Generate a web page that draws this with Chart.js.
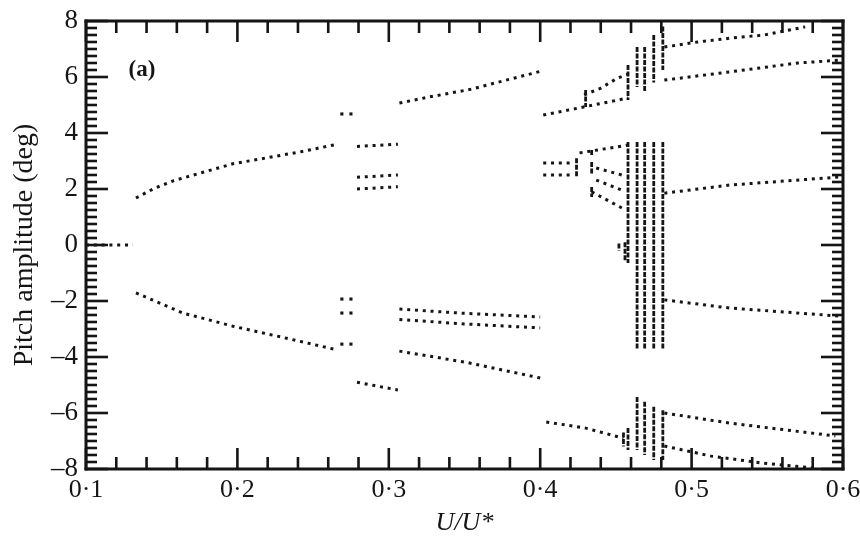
<!DOCTYPE html>
<html>
<head>
<meta charset="utf-8">
<script src="https://cdn.jsdelivr.net/npm/chart.js@4"></script>
<style>
  body { margin: 0; background: #fff; }
  #wrap { width: 860px; height: 536px; }
</style>
</head>
<body>
<div id="wrap"><canvas id="pitchChart"></canvas></div>
<script>
// points: [U/U*, pitch amplitude in deg]
const symmetric0 = [[0.100, 0], [0.131, 0]];
const p1Upper = [[0.133, 1.68], [0.145, 2.02], [0.158, 2.30], [0.197, 2.90], [0.241, 3.32], [0.266, 3.60]];
const p1Lower = [[0.133, -1.71], [0.164, -2.43], [0.197, -2.90], [0.230, -3.30], [0.266, -3.75]];
const gapDots = [[0.269, 4.68], [0.275, 4.68], [0.269, -1.93], [0.275, -1.93],
                 [0.269, -2.43], [0.275, -2.43], [0.269, -3.54], [0.275, -3.54]];
const band3a = [[0.279, 3.52], [0.306, 3.60]];
const band3b = [[0.279, 2.42], [0.306, 2.50]];
const band3c = [[0.279, 2.00], [0.306, 2.08]];
const band3d = [[0.279, -4.90], [0.306, -5.18]];
const p2Upper = [[0.307, 5.07], [0.327, 5.29], [0.354, 5.56], [0.400, 6.20]];
const p2LowA = [[0.307, -2.29], [0.350, -2.44], [0.400, -2.57]];
const p2LowB = [[0.307, -2.66], [0.350, -2.82], [0.400, -2.96]];
const p2LowC = [[0.307, -3.79], [0.352, -4.20], [0.400, -4.75]];
const p4UpperA = [[0.402, 4.64], [0.426, 4.90], [0.458, 5.25]];
const p4UpperB = [[0.429, 5.36], [0.440, 5.60], [0.451, 5.96], [0.458, 6.10]];
const p4MidA = [[0.402, 2.93], [0.420, 2.93]];
const p4MidB = [[0.402, 2.50], [0.420, 2.50]];
const fan1 = [[0.426, 3.29], [0.458, 3.57]];
const fan2 = [[0.437, 2.75], [0.454, 2.50]];
const fan3 = [[0.437, 2.32], [0.454, 1.96]];
const fan4 = [[0.434, 1.90], [0.454, 1.32]];
const p4Bottom = [[0.404, -6.32], [0.430, -6.54], [0.455, -6.90]];
const r1 = [[0.482, 7.07], [0.504, 7.25], [0.526, 7.39], [0.548, 7.50], [0.575, 7.79]];
const r2 = [[0.482, 5.89], [0.525, 6.18], [0.570, 6.50], [0.598, 6.60]];
const r3 = [[0.482, 1.85], [0.525, 2.14], [0.598, 2.43]];
const r4 = [[0.482, -1.96], [0.525, -2.25], [0.598, -2.54]];
const r5 = [[0.482, -6.00], [0.525, -6.36], [0.595, -6.82]];
const r6 = [[0.482, -7.18], [0.513, -7.54], [0.547, -7.79], [0.580, -7.96]];
// vertical streaks of the cascade: [U/U*, top, bottom]
const streaks = [
  [0.424, 3.10, 2.43], [0.434, 3.39, 3.20], [0.434, 2.96, 2.50], [0.434, 2.07, 1.71],
  [0.430, 5.54, 4.93], [0.452, 0.05, -0.20], [0.456, 0.10, -0.55], [0.455, -6.70, -7.20],
  [0.458, 6.43, 5.18], [0.464, 7.07, 5.64], [0.469, 7.07, 5.46], [0.475, 7.50, 5.80], [0.481, 7.80, 6.25],
  [0.458, 3.68, -0.64], [0.464, 3.68, -3.75], [0.469, 3.68, -3.75], [0.475, 3.68, -3.75], [0.481, 3.68, -3.75],
  [0.458, -6.54, -7.32], [0.464, -5.43, -7.32], [0.469, -5.60, -7.50], [0.475, -5.78, -7.68], [0.481, -5.90, -7.68]
];
const xTicksMajor = [0.1, 0.2, 0.3, 0.4, 0.5, 0.6];
const yTicksMajor = [-8, -6, -4, -2, 0, 2, 4, 6, 8];
// frame ticks: every 0.02 in U/U*, every 0.25 deg
const xMinorTicks = Array.from({ length: 26 }, (_, i) => ({ v: 0.1 + i * 0.02, major: i % 5 === 0 }));
const yMinorTicks = Array.from({ length: 65 }, (_, i) => ({ v: -8 + i * 0.25, major: i % 8 === 0 }));

const ink = "#151515";
const serif = "'Liberation Serif', 'DejaVu Serif', serif";

let toPts = (arr) => arr.map(([x, y]) => ({ x: x, y: y }));

let dotted = (arr) => ({
  data: toPts(arr),
  showLine: true,
  borderColor: ink,
  borderWidth: 3,
  borderDash: [3, 4.8],
  pointRadius: 0,
});

let streakData = [];
streaks.forEach(([x, top, bottom]) => {
  streakData.push({ x: x, y: top }, { x: x, y: bottom }, { x: x, y: null });
});

const branchList = [symmetric0, p1Upper, p1Lower, band3a, band3b, band3c, band3d,
  p2Upper, p2LowA, p2LowB, p2LowC, p4UpperA, p4UpperB, p4MidA, p4MidB,
  fan1, fan2, fan3, fan4, p4Bottom, r1, r2, r3, r4, r5, r6];

const datasets = branchList.map(dotted);
datasets.push({
  data: streakData,
  showLine: true,
  spanGaps: false,
  borderColor: ink,
  borderWidth: 2.8,
  borderDash: [5, 1.5],
  pointRadius: 0,
});
datasets.push({
  data: toPts(gapDots),
  pointStyle: "rect",
  pointRadius: 2.2,
  backgroundColor: ink,
  borderWidth: 0,
});

// frame with inward ticks on all four sides, plus the panel label
const frameTicks = {
  id: "frameTicks",
  afterDraw(chart) {
    const ctx = chart.ctx;
    const a = chart.chartArea;
    const sx = chart.scales.x;
    const sy = chart.scales.y;
    ctx.save();
    ctx.fillStyle = ink;
    xMinorTicks.forEach((t) => {
      const px = sx.getPixelForValue(t.v);
      const len = t.major ? 21 : 12;
      ctx.fillRect(px - 1.3, a.bottom - len, 2.6, len);
      ctx.fillRect(px - 1.3, a.top, 2.6, len);
    });
    yMinorTicks.forEach((t) => {
      const py = sy.getPixelForValue(t.v);
      const len = t.major ? 22 : 11;
      ctx.fillRect(a.left, py - 1.3, len, 2.6);
      ctx.fillRect(a.right - len, py - 1.3, len, 2.6);
    });
    ctx.fillRect(a.left - 1.5, a.top - 1.5, a.right - a.left + 3, 3);
    ctx.fillRect(a.left - 1.5, a.bottom - 1.5, a.right - a.left + 3, 3);
    ctx.fillRect(a.left - 1.5, a.top - 1.5, 3, a.bottom - a.top + 3);
    ctx.fillRect(a.right - 1.5, a.top - 1.5, 3, a.bottom - a.top + 3);
    ctx.font = "bold 23px " + serif;
    ctx.textAlign = "center";
    ctx.textBaseline = "middle";
    ctx.fillText("(a)", sx.getPixelForValue(0.137), sy.getPixelForValue(6.25));
    ctx.restore();
  },
};

let plotPitch = () => {
  const ctx = document.getElementById("pitchChart");
  const config = {
    type: "scatter",
    data: { datasets: datasets },
    options: {
      animation: false,
      responsive: true,
      maintainAspectRatio: false,
      layout: { padding: { left: 0, right: 17, top: 21, bottom: 0 } },
      plugins: { legend: { display: false }, tooltip: { enabled: false } },
      scales: {
        x: {
          type: "linear",
          min: 0.1,
          max: 0.6,
          afterFit: (scale) => { scale.height = 67; scale.paddingLeft = 0; scale.paddingRight = 0; },
          afterBuildTicks: (scale) => { scale.ticks = xTicksMajor.map((v) => ({ value: v })); },
          grid: { display: false, drawTicks: false },
          border: { display: false },
          ticks: {
            padding: 6,
            maxRotation: 0,
            autoSkip: false,
            color: ink,
            font: { family: serif, size: 26 },
            callback: (v) => Number(v).toFixed(1).replace(".", "·"),
          },
          title: {
            display: true,
            text: "U/U*",
            color: ink,
            padding: 0,
            font: { family: serif, size: 26, style: "italic", lineHeight: 1 },
          },
        },
        y: {
          type: "linear",
          min: -8,
          max: 8,
          afterFit: (scale) => { scale.width = 86; scale.paddingTop = 0; scale.paddingBottom = 0; },
          afterBuildTicks: (scale) => { scale.ticks = yTicksMajor.map((v) => ({ value: v })); },
          grid: { display: false, drawTicks: false },
          border: { display: false },
          ticks: {
            padding: 8,
            autoSkip: false,
            color: ink,
            font: { family: serif, size: 27 },
            callback: (v) => (v < 0 ? "–" + (-v) : String(v)),
          },
          title: {
            display: true,
            text: "Pitch amplitude (deg)",
            color: ink,
            padding: { top: 11, bottom: 0 },
            font: { family: serif, size: 28, lineHeight: 1 },
          },
        },
      },
    },
    plugins: [frameTicks],
  };
  new Chart(ctx, config);
};

plotPitch();
</script>
</body>
</html>
